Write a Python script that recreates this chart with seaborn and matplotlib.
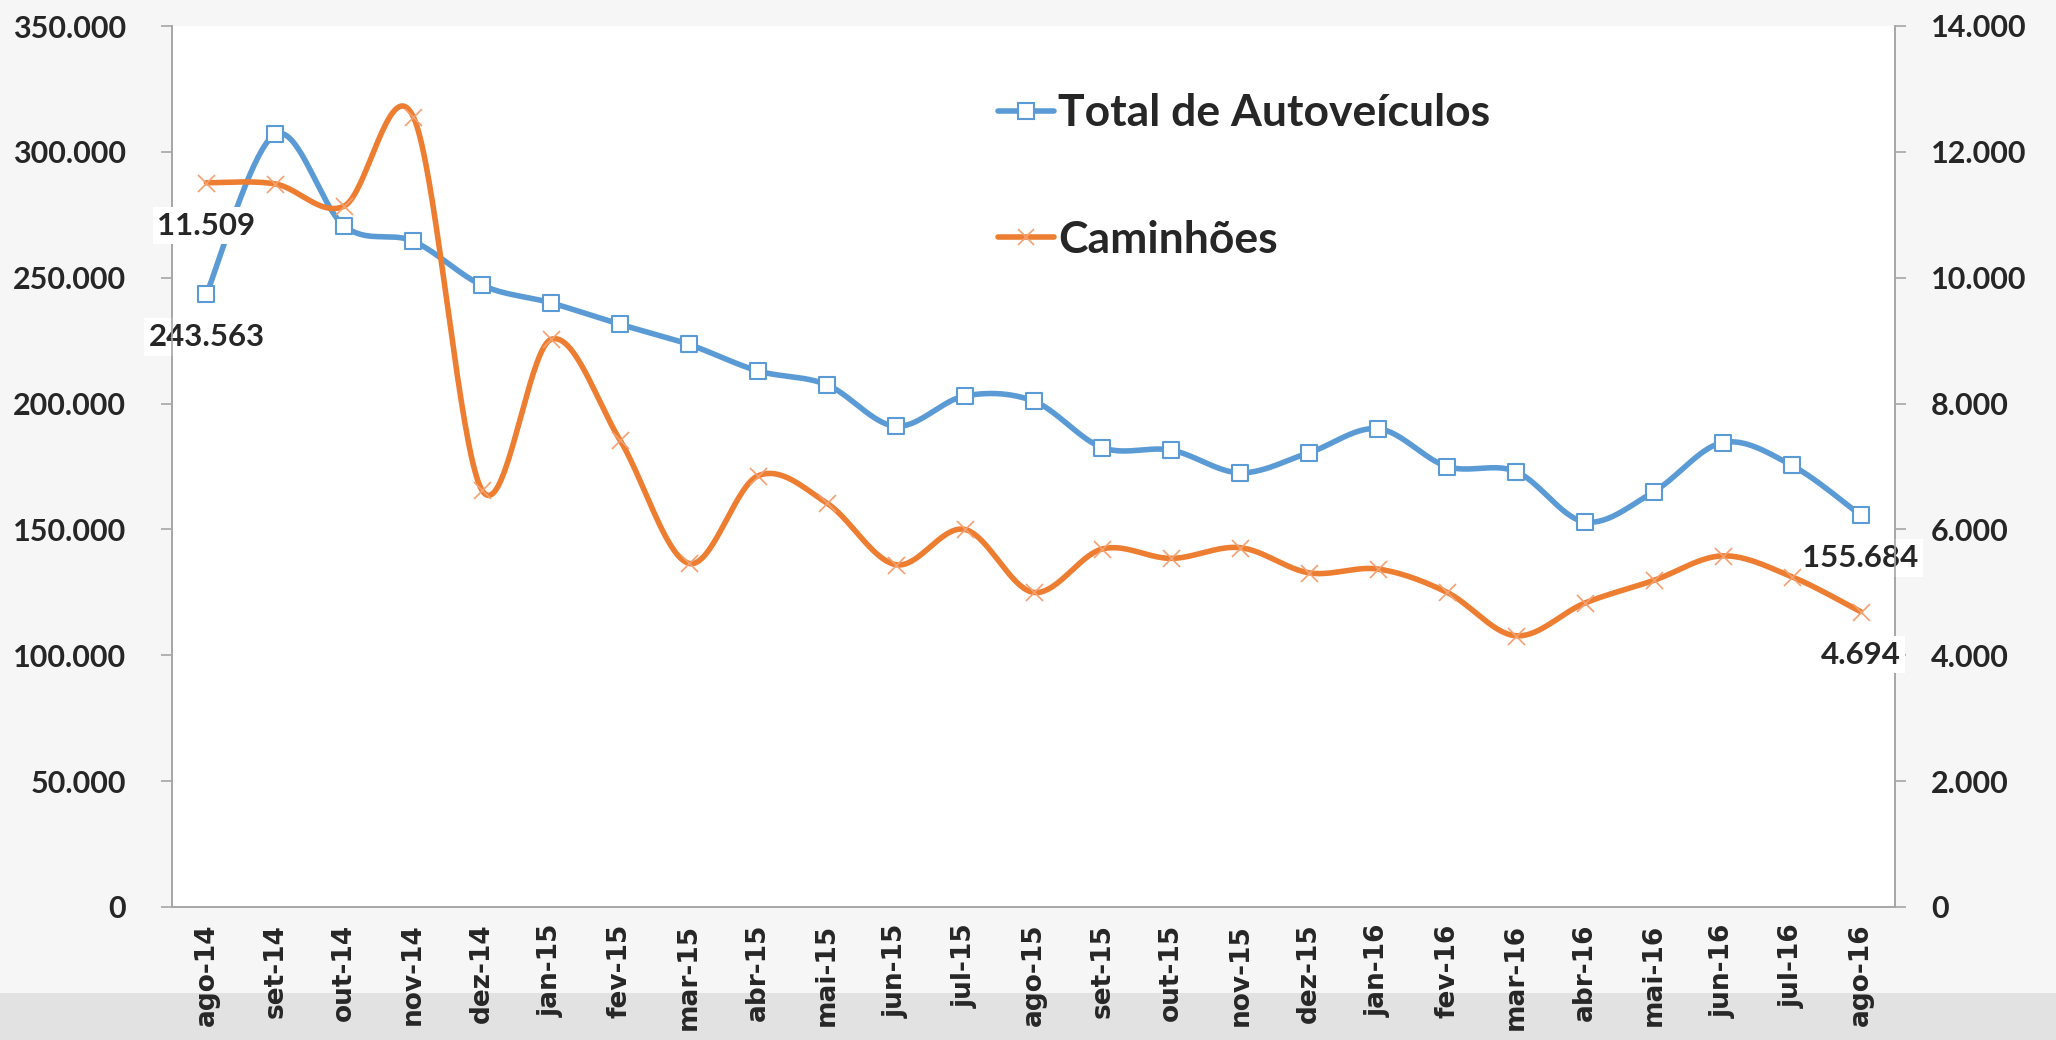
import numpy as np
import pandas as pd
import seaborn as sns
import matplotlib.pyplot as plt
from matplotlib.lines import Line2D
from matplotlib.patches import Rectangle
from matplotlib.ticker import FuncFormatter, MultipleLocator, FixedLocator

# dados
meses = ["ago-14", "set-14", "out-14", "nov-14", "dez-14", "jan-15", "fev-15", "mar-15",
         "abr-15", "mai-15", "jun-15", "jul-15", "ago-15", "set-15", "out-15", "nov-15",
         "dez-15", "jan-16", "fev-16", "mar-16", "abr-16", "mai-16", "jun-16", "jul-16", "ago-16"]
total = [243563, 307000, 270500, 264500, 247000, 240000, 231500, 223500, 213000, 207500,
         191000, 203000, 201000, 182500, 181500, 172500, 180500, 190000, 175000, 173000,
         153000, 165000, 184500, 175500, 155684]
caminhoes = [11509, 11490, 11140, 12560, 6620, 9020, 7420, 5460, 6850, 6420,
             5440, 6000, 5000, 5690, 5540, 5710, 5310, 5370, 5000, 4310,
             4830, 5190, 5580, 5250, 4694]

AZUL = "#5b9bd5"
LARANJA = "#ed7d31"
CINZA = "#a6a6a6"


def suaviza(y, n=40):
    # curva suavizada estilo Excel (Catmull-Rom em Bezier)
    x = np.arange(len(y), dtype=float)
    y = np.asarray(y, dtype=float)
    xs, ys = [], []
    t = np.linspace(0, 1, n)
    for i in range(len(y) - 1):
        p0 = max(i - 1, 0)
        p3 = min(i + 2, len(y) - 1)
        c1x = x[i] + (x[i + 1] - x[p0]) / 6
        c1y = y[i] + (y[i + 1] - y[p0]) / 6
        c2x = x[i + 1] - (x[p3] - x[i]) / 6
        c2y = y[i + 1] - (y[p3] - y[i]) / 6
        bx = (1 - t) ** 3 * x[i] + 3 * (1 - t) ** 2 * t * c1x + 3 * (1 - t) * t ** 2 * c2x + t ** 3 * x[i + 1]
        by = (1 - t) ** 3 * y[i] + 3 * (1 - t) ** 2 * t * c1y + 3 * (1 - t) * t ** 2 * c2y + t ** 3 * y[i + 1]
        xs.extend(bx)
        ys.extend(by)
    return np.array(xs), np.array(ys)


sns.set_style("white")
plt.rcParams["font.family"] = ["Lato", "DejaVu Sans"]

fig = plt.figure(figsize=(20.56, 10.4), dpi=100, facecolor="#f6f6f6")
fig.patches.append(Rectangle((0, 0), 1, 47 / 1040, transform=fig.transFigure,
                             facecolor="#e2e2e2", edgecolor="none", zorder=-1))
ax = fig.add_axes([172 / 2056, 1 - 907 / 1040, (1895 - 172) / 2056, (907 - 26) / 1040])
ax.set_facecolor("white")
ax2 = ax.twinx()

pos = np.arange(len(meses))

# Total de Autoveículos (eixo esquerdo)
sx, sy = suaviza(total)
sns.lineplot(x=sx, y=sy, ax=ax, color=AZUL, lw=4, sort=False, estimator=None)
sns.scatterplot(x=pos, y=total, ax=ax, marker="s", s=130, color="white",
                edgecolor=AZUL, linewidth=1.5, zorder=4)

# Caminhões (eixo direito)
cx, cy = suaviza(caminhoes)
sns.lineplot(x=cx, y=cy, ax=ax2, color=LARANJA, lw=4, sort=False, estimator=None)
sns.scatterplot(x=pos, y=caminhoes, ax=ax2, marker="x", s=150, color="#f4a070",
                linewidth=1.2, zorder=4)

fmt = FuncFormatter(lambda v, p: f"{int(v):,}".replace(",", "."))

ax.set_xlim(-0.5, len(meses) - 0.5)
ax.set_ylim(0, 350000)
ax2.set_ylim(0, 14000)
ax.yaxis.set_major_locator(MultipleLocator(50000))
ax2.yaxis.set_major_locator(MultipleLocator(2000))
ax.yaxis.set_major_formatter(fmt)
ax2.yaxis.set_major_formatter(fmt)

ax.set_xticks(pos)
ax.set_xticklabels(meses, rotation=90)
for lab in ax.get_xticklabels():
    lab.set_fontfamily("DejaVu Sans")
    lab.set_fontweight("bold")
    lab.set_fontsize(19)
ax.xaxis.set_minor_locator(FixedLocator(np.arange(-0.5, len(meses), 1.0)))
ax.tick_params(axis="x", which="major", length=0, pad=12)
ax.tick_params(axis="x", which="minor", length=9, color=CINZA, width=1.2)
ax.tick_params(axis="y", length=8, color=CINZA, width=1.2, pad=25, labelsize=22)
ax2.tick_params(axis="y", length=8, color=CINZA, width=1.2, pad=18, labelsize=22)
for lab in ax.get_yticklabels() + ax2.get_yticklabels():
    lab.set_fontweight("bold")

for a in (ax, ax2):
    a.set_xlabel("")
    a.set_ylabel("")
    a.spines["top"].set_visible(False)
    for s in ("left", "right", "bottom"):
        a.spines[s].set_color(CINZA)
        a.spines[s].set_linewidth(1.2)

# rótulos de dados
caixa = dict(boxstyle="square,pad=0.15", facecolor="white", edgecolor="none")
rotulos = [(ax, 0, total[0]), (ax2, 0, caminhoes[0]),
           (ax, len(meses) - 1, total[-1]), (ax2, len(meses) - 1, caminhoes[-1])]
for a, i, v in rotulos:
    a.annotate(fmt(v, None), (i, v), xytext=(0, -31), textcoords="offset points",
               ha="center", va="center", fontsize=22.5, fontweight="bold", bbox=caixa,
               zorder=6, annotation_clip=False)

# legenda
handles = [
    Line2D([], [], color=AZUL, lw=4, marker="s", markersize=11, markerfacecolor="white",
           markeredgecolor=AZUL, markeredgewidth=1.5),
    Line2D([], [], color=LARANJA, lw=4, marker="x", markersize=12, markeredgecolor="#f4a070",
           markeredgewidth=1.2),
]
leg = ax2.legend(handles, ["Total de Autoveículos", "Caminhões"], loc="upper left",
                 bbox_to_anchor=(976 / 2056, 1 - 71 / 1040), bbox_transform=fig.transFigure,
                 frameon=False, prop={"family": "Lato", "weight": "bold", "size": 32},
                 handlelength=1.26, handletextpad=0.08, labelspacing=1.95, borderpad=0)

fig.savefig("out.png", dpi=100, facecolor=fig.get_facecolor())
